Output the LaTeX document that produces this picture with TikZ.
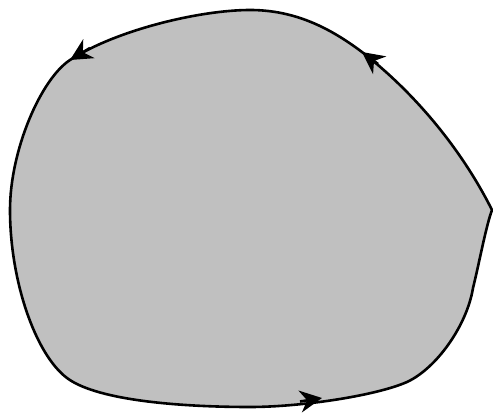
\documentclass[tikz,border=0pt]{standalone}
\usetikzlibrary{arrows.meta}
\definecolor{blobgray}{HTML}{C0C0C0}
\tikzset{
  outline/.style={line width=2.6pt, draw=black, fill=blobgray, line join=miter},
  tipmark/.style={line width=2.6pt, -{Stealth[length=22pt,width=22pt,inset=7pt]}}
}
\begin{document}
\begin{tikzpicture}[x=1pt,y=-1pt]
\useasboundingbox (0,0) rectangle (493,415);
\filldraw[outline] (492,210)
  .. controls (462,150) and (415,93) .. (362,52)
  .. controls (330,28) and (295,10) .. (250,10)
  .. controls (200,10) and (116,30) .. (70,60)
  .. controls (41,79) and (10,150) .. (10,210)
  .. controls (10,280) and (35,354) .. (67,378)
  .. controls (99,402) and (190,407) .. (250,407)
  .. controls (300,407) and (375,396) .. (407,382)
  .. controls (437,368) and (467,325) .. (473,288)
  .. controls (479,264) and (486,226) .. (492,210) -- cycle;
\coordinate (a1) at (90,48);
\coordinate (a2) at (70,60);
\coordinate (b1) at (378,64);
\coordinate (b2) at (362,52);
\coordinate (c1) at (300,401.5);
\coordinate (c2) at (322,398);
\draw[tipmark] (a1) -- (a2);
\draw[tipmark] (b1) -- (b2);
\draw[tipmark] (c1) -- (c2);
\end{tikzpicture}
\end{document}
